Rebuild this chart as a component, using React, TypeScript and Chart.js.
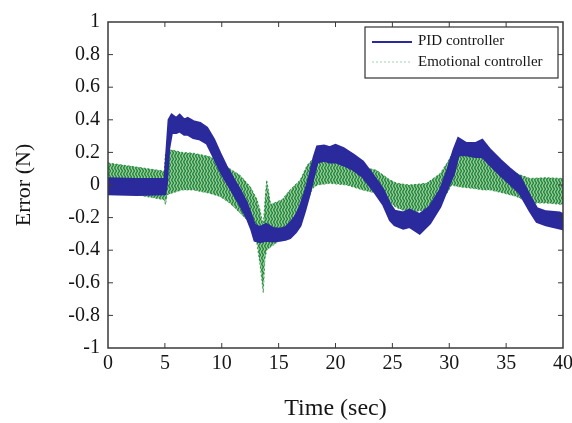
import React, { useEffect, useRef } from 'react';
import { Chart, registerables } from 'chart.js';

Chart.register(...registerables);

// ---- data ----
const xTickLabels = ['0', '5', '10', '15', '20', '25', '30', '35', '40'];
const yTickLabels = ['-1', '-0.8', '-0.6', '-0.4', '-0.2', '0', '0.2', '0.4', '0.6', '0.8', '1'];
const seriesNames = ['PID controller', 'Emotional controller'];

// PID controller: thick oscillating band (upper / lower envelope)
const pidTime = [0, 2.5, 5.0, 5.15, 5.35, 5.6, 6.0, 6.3, 6.7, 7.0, 7.5, 8.1, 8.7, 9.3, 9.85, 10.4, 11.0, 11.6, 12.2, 12.6, 12.9, 13.35, 13.9, 14.5, 15.1, 15.6, 16.0, 16.5, 16.9, 17.3, 17.7, 18.1, 18.4, 19.0, 19.5, 20.0, 20.7, 21.6, 22.4, 23.3, 24.2, 24.8, 25.2, 25.96, 26.5, 27.4, 28.3, 29.2, 29.8, 30.4, 30.8, 31.5, 32.3, 32.9, 33.6, 34.5, 35.3, 36.2, 37.1, 37.7, 38.5, 39.7, 40];
const pidUpper = [0.04, 0.035, 0.035, 0.2, 0.40, 0.43, 0.41, 0.43, 0.40, 0.41, 0.39, 0.38, 0.35, 0.28, 0.195, 0.115, 0.04, -0.03, -0.11, -0.19, -0.245, -0.26, -0.24, -0.265, -0.27, -0.26, -0.235, -0.19, -0.13, -0.05, 0.05, 0.17, 0.235, 0.24, 0.23, 0.245, 0.225, 0.184, 0.143, 0.06, -0.03, -0.12, -0.16, -0.17, -0.153, -0.18, -0.133, -0.03, 0.08, 0.215, 0.286, 0.256, 0.256, 0.276, 0.215, 0.153, 0.102, 0.05, -0.07, -0.143, -0.163, -0.17, -0.18];
const pidLower = [-0.055, -0.06, -0.055, 0.0, 0.22, 0.32, 0.32, 0.33, 0.31, 0.31, 0.29, 0.28, 0.255, 0.17, 0.09, 0.02, -0.05, -0.12, -0.2, -0.27, -0.34, -0.35, -0.34, -0.345, -0.34, -0.335, -0.325, -0.29, -0.25, -0.16, -0.06, 0.06, 0.14, 0.15, 0.14, 0.14, 0.123, 0.092, 0.05, -0.03, -0.12, -0.215, -0.245, -0.266, -0.256, -0.297, -0.235, -0.133, -0.03, 0.07, 0.184, 0.184, 0.174, 0.174, 0.123, 0.061, 0.01, -0.05, -0.16, -0.225, -0.245, -0.266, -0.27];

// Emotional controller: dotted oscillating band (upper / lower envelope)
const emoTime = [0, 2.5, 4.95, 5.05, 5.2, 5.6, 6.5, 7.5, 8.9, 9.85, 10.7, 11.6, 12.5, 13.1, 13.35, 13.65, 13.8, 13.95, 14.3, 15.3, 16.0, 16.9, 17.5, 18.0, 18.4, 19.5, 21.0, 22.4, 23.6, 24.8, 25.4, 26.5, 28.0, 29.2, 29.8, 30.2, 30.8, 32.0, 33.0, 33.6, 34.8, 35.9, 37.1, 38.5, 40];
const emoUpper = [0.135, 0.11, 0.085, 0.19, 0.21, 0.215, 0.2, 0.195, 0.175, 0.143, 0.1, 0.06, -0.01, -0.09, -0.15, -0.25, -0.1, 0.03, -0.12, -0.09, -0.03, 0.03, 0.12, 0.16, 0.175, 0.17, 0.15, 0.11, 0.09, 0.03, 0.01, 0.0, 0.01, 0.07, 0.134, 0.184, 0.185, 0.175, 0.165, 0.143, 0.092, 0.07, 0.04, 0.045, 0.04];
const emoLower = [-0.03, -0.06, -0.09, -0.12, -0.06, -0.05, -0.03, -0.03, -0.05, -0.07, -0.11, -0.17, -0.235, -0.36, -0.48, -0.66, -0.45, -0.4, -0.38, -0.33, -0.29, -0.22, -0.1, -0.02, 0.0, 0.01, 0.0, -0.03, -0.05, -0.11, -0.14, -0.17, -0.15, -0.09, -0.05, 0.0, -0.01, -0.02, -0.03, -0.03, -0.05, -0.07, -0.11, -0.11, -0.12];

const SERIF = "'Liberation Serif', 'Times New Roman', 'DejaVu Serif', serif";
const BLUE = '#2a2a9c';
const GREEN = 'rgb(30,130,60)';

function toPoints(xs: number[], ys: number[]) {
  return xs.map((x, i) => ({ x, y: ys[i] }));
}

export default function App() {
  const ref = useRef<HTMLCanvasElement | null>(null);

  useEffect(() => {
    const canvas = ref.current;
    if (!canvas) return;

    // hatch pattern for the emotional controller band
    const pc = document.createElement('canvas');
    pc.width = 3;
    pc.height = 6;
    const pctx = pc.getContext('2d')!;
    pctx.fillStyle = 'rgb(150,205,150)';
    pctx.fillRect(0, 0, 3, 6);
    pctx.strokeStyle = GREEN;
    pctx.lineWidth = 1.3;
    pctx.beginPath();
    pctx.moveTo(0.5, 0);
    pctx.lineTo(2.5, 3);
    pctx.lineTo(0.5, 6);
    pctx.stroke();
    const ctx0 = canvas.getContext('2d')!;
    const pattern = ctx0.createPattern(pc, 'repeat') || 'rgba(60,150,80,0.6)';

    const framePlugin = {
      id: 'framePlugin',
      afterDraw(chart: any) {
        const { ctx, chartArea } = chart;
        const { left, right, top, bottom } = chartArea;
        const xs = chart.scales.x;
        const ys = chart.scales.y;
        ctx.save();
        ctx.strokeStyle = '#3a3a3a';
        ctx.lineWidth = 1.5;
        ctx.strokeRect(left, top, right - left, bottom - top);
        ctx.lineWidth = 1;
        const L = 5;
        ctx.beginPath();
        xs.ticks.forEach((t: any) => {
          const px = xs.getPixelForValue(t.value);
          if (px <= left + 1 || px >= right - 1) return;
          ctx.moveTo(px, bottom);
          ctx.lineTo(px, bottom - L);
          ctx.moveTo(px, top);
          ctx.lineTo(px, top + L);
        });
        ys.ticks.forEach((t: any) => {
          const py = ys.getPixelForValue(t.value);
          if (py <= top + 1 || py >= bottom - 1) return;
          ctx.moveTo(left, py);
          ctx.lineTo(left + L, py);
          ctx.moveTo(right, py);
          ctx.lineTo(right - L, py);
        });
        ctx.stroke();

        // legend box
        const w = 193;
        const h = 51;
        const lx = right - 5 - w;
        const ly = top + 5;
        ctx.fillStyle = '#ffffff';
        ctx.fillRect(lx, ly, w, h);
        ctx.strokeStyle = '#333';
        ctx.lineWidth = 1.2;
        ctx.strokeRect(lx, ly, w, h);

        ctx.strokeStyle = BLUE;
        ctx.lineWidth = 2;
        ctx.beginPath();
        ctx.moveTo(lx + 7, ly + 15);
        ctx.lineTo(lx + 47, ly + 15);
        ctx.stroke();

        ctx.strokeStyle = 'rgba(90,170,110,0.55)';
        ctx.lineWidth = 1;
        ctx.setLineDash([2, 2]);
        ctx.beginPath();
        ctx.moveTo(lx + 7, ly + 35);
        ctx.lineTo(lx + 47, ly + 35);
        ctx.stroke();
        ctx.setLineDash([]);

        ctx.fillStyle = '#151515';
        ctx.font = `15px ${SERIF}`;
        ctx.textBaseline = 'middle';
        ctx.textAlign = 'left';
        ctx.fillText(seriesNames[0], lx + 53, ly + 14);
        ctx.fillText(seriesNames[1], lx + 53, ly + 35);
        ctx.restore();
      },
    };

    const chart = new Chart(canvas, {
      type: 'line',
      data: {
        datasets: [
          {
            label: seriesNames[0] + ' upper',
            data: toPoints(pidTime, pidUpper),
            borderColor: BLUE,
            backgroundColor: BLUE,
            borderWidth: 2.5,
            pointRadius: 0,
            fill: 1,
            tension: 0,
          },
          {
            label: seriesNames[0] + ' lower',
            data: toPoints(pidTime, pidLower),
            borderColor: BLUE,
            backgroundColor: BLUE,
            borderWidth: 2.5,
            pointRadius: 0,
            fill: false,
            tension: 0,
          },
          {
            label: seriesNames[1] + ' upper',
            data: toPoints(emoTime, emoUpper),
            borderColor: 'rgba(31,138,60,0.9)',
            backgroundColor: pattern as any,
            borderWidth: 1,
            borderDash: [2, 2],
            pointRadius: 0,
            fill: 3,
            tension: 0,
          },
          {
            label: seriesNames[1] + ' lower',
            data: toPoints(emoTime, emoLower),
            borderColor: 'rgba(31,138,60,0.9)',
            backgroundColor: pattern as any,
            borderWidth: 1,
            borderDash: [2, 2],
            pointRadius: 0,
            fill: false,
            tension: 0,
          },
        ],
      },
      options: {
        responsive: false,
        animation: false,
        devicePixelRatio: 1,
        parsing: false as any,
        normalized: true,
        layout: { padding: { left: 0, right: 9, top: 22, bottom: 0 } },
        plugins: {
          legend: { display: false },
          tooltip: { enabled: false },
        },
        scales: {
          x: {
            type: 'linear',
            min: 0,
            max: 40,
            grid: { display: false, drawTicks: false },
            border: { display: false },
            ticks: {
              stepSize: 5,
              padding: 4,
              color: '#151515',
              font: { family: SERIF, size: 20 },
              maxRotation: 0,
              callback: (v: any) => xTickLabels[Math.round(Number(v) / 5)] ?? '',
            },
            title: {
              display: true,
              text: 'Time (sec)',
              color: '#151515',
              font: { family: SERIF, size: 24 },
              padding: { top: 0, bottom: 0 },
            },
            afterFit: (s: any) => {
              s.height = 75;
              s.paddingLeft = 0;
              s.paddingRight = 0;
            },
          },
          y: {
            type: 'linear',
            min: -1,
            max: 1,
            grid: { display: false, drawTicks: false },
            border: { display: false },
            ticks: {
              stepSize: 0.2,
              padding: 8,
              color: '#151515',
              font: { family: SERIF, size: 20 },
              callback: (v: any) => yTickLabels[Math.round((Number(v) + 1) / 0.2)] ?? '',
            },
            title: {
              display: true,
              text: 'Error (N)',
              color: '#151515',
              font: { family: SERIF, size: 22 },
              padding: { top: 11, bottom: 0 },
            },
            afterFit: (s: any) => {
              s.width = 108;
              s.paddingTop = 0;
              s.paddingBottom = 0;
            },
          },
        },
      },
      plugins: [framePlugin],
    } as any);

    return () => {
      chart.destroy();
    };
  }, []);

  return (
    <div style={{ position: 'absolute', left: 0, top: 0, width: 572, height: 423, background: '#ffffff' }}>
      <canvas ref={ref} width={572} height={423} style={{ display: 'block' }} />
    </div>
  );
}
